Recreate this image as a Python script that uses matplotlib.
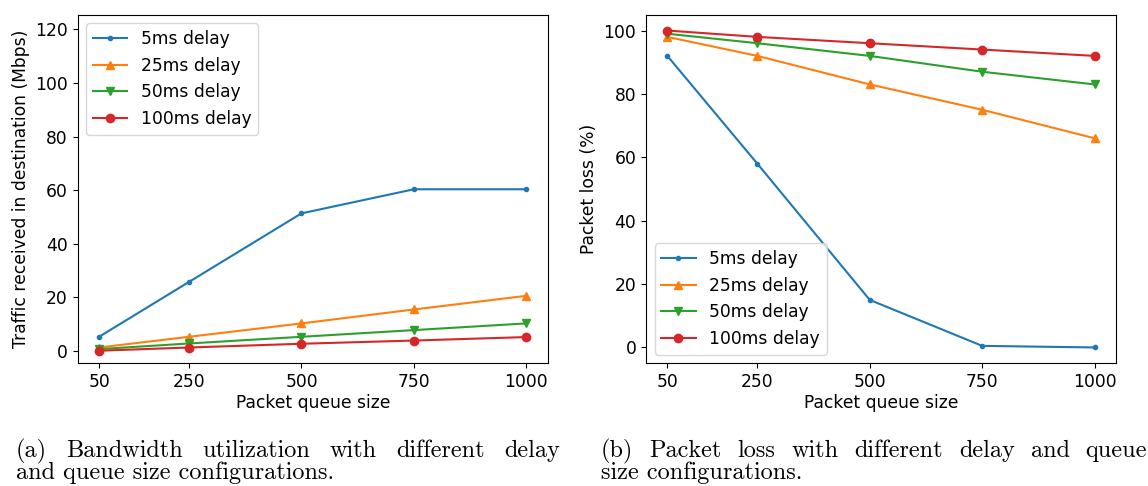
import matplotlib.pyplot as plt

# packet queue sizes on the x axis
queue_sizes = [50, 250, 500, 750, 1000]
delay_labels = ['5ms delay', '25ms delay', '50ms delay', '100ms delay']
markers = ['.', '^', 'v', 'o']

# (a) traffic received in destination (Mbps)
traffic_5ms = [5.2, 25.7, 51.3, 60.3, 60.3]
traffic_25ms = [1.2, 5.2, 10.2, 15.4, 20.5]
traffic_50ms = [0.6, 2.7, 5.2, 7.7, 10.2]
traffic_100ms = [0.0, 1.2, 2.6, 3.8, 5.1]

# (b) packet loss (%)
loss_5ms = [92, 58, 15, 0.5, 0]
loss_25ms = [98, 92, 83, 75, 66]
loss_50ms = [99, 96, 92, 87, 83]
loss_100ms = [100, 98, 96, 94, 92]

W, H = 1148, 486
fs = 12.3
fig = plt.figure(figsize=(W / 100, H / 100), dpi=100)
ax1 = fig.add_axes([77.7 / W, 1 - 363.3 / H, 470 / W, 348.6 / H])
ax2 = fig.add_axes([646 / W, 1 - 363.3 / H, 470 / W, 348.6 / H])

for ys, lab, m in zip([traffic_5ms, traffic_25ms, traffic_50ms, traffic_100ms], delay_labels, markers):
    ax1.plot(queue_sizes, ys, marker=m, label=lab)
for ys, lab, m in zip([loss_5ms, loss_25ms, loss_50ms, loss_100ms], delay_labels, markers):
    ax2.plot(queue_sizes, ys, marker=m, label=lab)

ax1.set_ylim(-4.7, 125.5)
ax1.set_yticks([0, 20, 40, 60, 80, 100, 120])
ax1.set_ylabel('Traffic received in destination (Mbps)', fontsize=fs)
ax2.set_ylabel('Packet loss (%)', fontsize=fs)
for ax in (ax1, ax2):
    ax.set_xticks(queue_sizes)
    ax.set_xlabel('Packet queue size', fontsize=fs, labelpad=2)
    ax.tick_params(labelsize=fs)

ax1.legend(loc='upper left', fontsize=fs)
ax2.legend(loc='lower left', fontsize=fs)

# captions, latex-like serif; first lines are justified like in the paper
cap = dict(family='cmr10', fontsize=17.5, ha='left', va='baseline')
renderer = fig.canvas.get_renderer()


def justified(x0, x1, y, text):
    words = text.split()
    arts = [fig.text(0, 1 - y / H, w, **cap) for w in words]
    widths = [a.get_window_extent(renderer).width for a in arts]
    gap = ((x1 - x0) - sum(widths)) / (len(words) - 1)
    x = x0
    for a, w in zip(arts, widths):
        a.set_x(x / W)
        x += w + gap


justified(16, 560, 457, '(a) Bandwidth utilization with different delay')
fig.text(16 / W, 1 - 479 / H, 'and queue size configurations.', **cap)
justified(601, 1147, 457, '(b) Packet loss with different delay and queue')
fig.text(601 / W, 1 - 479 / H, 'size configurations.', **cap)

fig.savefig('out.png', dpi=100)
